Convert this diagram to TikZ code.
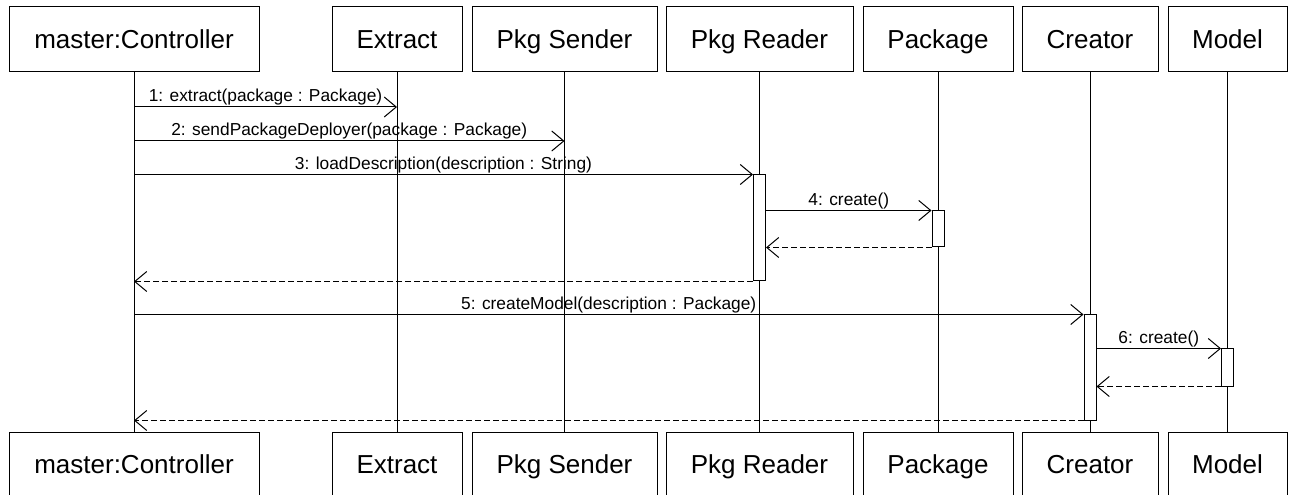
\documentclass[tikz,border=0pt]{standalone}
\usepackage{fontspec}
\setmainfont{Liberation Sans}
\usetikzlibrary{arrows.meta}

\tikzset{
  obj/.style={draw, line width=0.75pt, inner sep=0pt, minimum height=48.75pt,
    text height=14pt, text depth=0pt, font=\fontsize{19.5}{22}\selectfont},
  act/.style={draw, fill=white, line width=0.75pt, minimum width=9pt, inner sep=0pt},
  call/.style={line width=0.75pt, -{Straight Barb[length=9pt,width=15pt,line width=0.75pt]}},
  reply/.style={call, dash pattern=on 4.5pt off 2.25pt},
  lbl/.style={above, inner sep=1pt, font=\fontsize{13}{15}\selectfont}
}

\begin{document}
\begin{tikzpicture}[x=0.75pt,y=-0.75pt]
\useasboundingbox (0,0) rectangle (1296,495);
\clip (0,0) rectangle (1296,495);
% objects, top and bottom, with lifelines
\foreach \n/\x/\w/\t in {ctrl/134/187.5pt/master:Controller, ext/397/97.5pt/Extract,
    snd/564.5/138.75pt/Pkg Sender, rdr/759.5/140.25pt/Pkg Reader,
    pkg/938/112.5pt/Package, crt/1090/102pt/Creator, mdl/1227.5/89.25pt/Model}{
  \node[obj, minimum width=\w] (\n) at (\x,39.5) {\t};
  \node[obj, minimum width=\w] (b\n) at (\x,464.5) {\t};
  \draw[line width=0.75pt] (\n.south) -- (b\n.north);
}
% activations
\node[act, minimum height=79.5pt] (rdact) at (759.5,228) {};
\node[act, minimum height=27pt] (pkact) at (938,229) {};
\node[act, minimum height=78.75pt] (crtact) at (1090,367.5) {};
\node[act, minimum height=27.75pt] (mdlact) at (1227.5,367.5) {};
% messages
\draw[call] (ctrl |- 0,107) -- node[lbl]{1: extract(package : Package)} (ext |- 0,107);
\draw[call] (ctrl |- 0,141) -- node[lbl]{2: sendPackageDeployer(package : Package)} (snd |- 0,141);
\draw[call] (ctrl |- rdact.north) -- node[lbl]{3: loadDescription(description : String)} (rdact.north west);
\draw[call] (rdact.east |- pkact.north) -- node[lbl]{4: create()} (pkact.north west);
\draw[reply] (pkact.south west) -- (rdact.east |- pkact.south);
\draw[reply] (rdact.south west) -- (ctrl |- rdact.south);
\draw[call] (ctrl |- crtact.north) -- node[lbl]{5: createModel(description : Package)} (crtact.north west);
\draw[call] (crtact.east |- mdlact.north) -- node[lbl]{6: create()} (mdlact.north west);
\draw[reply] (mdlact.south west) -- (crtact.east |- mdlact.south);
\draw[reply] (crtact.south west) -- (ctrl |- crtact.south);
\end{tikzpicture}
\end{document}
